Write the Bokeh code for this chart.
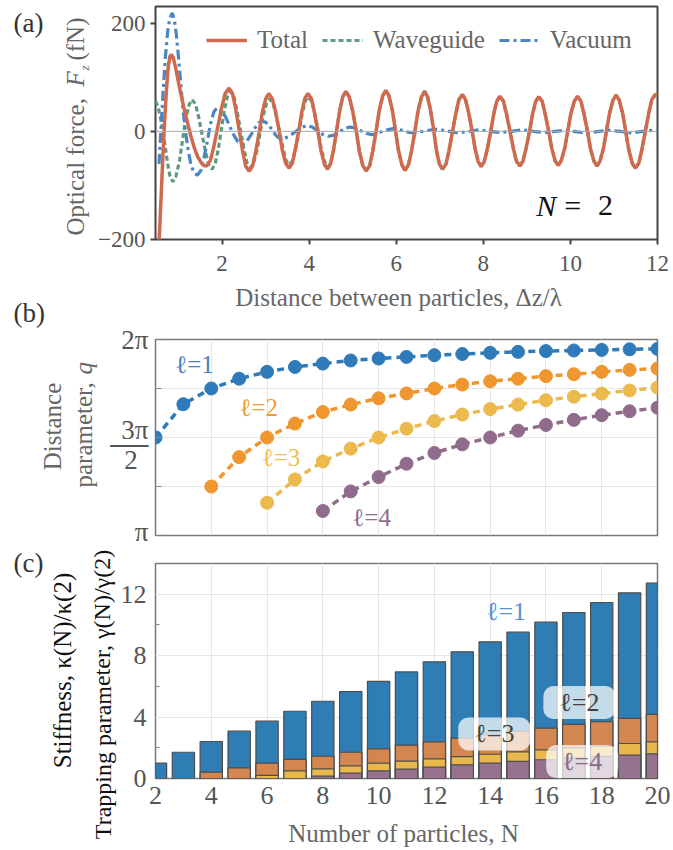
from bokeh.plotting import figure
from bokeh.models import Range1d, FixedTicker, Label, Legend, LegendItem, Span
from bokeh.layouts import column
from bokeh.embed import file_html
from bokeh.resources import INLINE

SERIF = "Liberation Serif"

# ---------------- panel (a): optical force vs distance ----
total_x = [0.52, 0.56, 0.60, 0.64, 0.68, 0.72, 0.76, 0.80, 0.83, 0.87, 0.92, 0.98, 1.05, 1.12, 1.20, 1.28, 1.36, 1.44, 1.52, 1.58, 1.64,
           1.73, 1.81, 1.90, 1.99, 2.07, 2.16,
           2.24, 2.31, 2.39, 2.47, 2.54, 2.62,
           2.70, 2.77, 2.85, 2.92, 3.00, 3.07,
           3.15, 3.23, 3.31, 3.38, 3.46, 3.54,
           3.61, 3.68, 3.76, 3.83, 3.90, 3.97,
           4.05, 4.12, 4.20, 4.27, 4.35, 4.42,
           4.49, 4.56, 4.63, 4.70, 4.77, 4.84,
           4.92, 5.00, 5.08, 5.15, 5.23, 5.31,
           5.39, 5.46, 5.54, 5.61, 5.69, 5.76,
           5.83, 5.91, 5.98, 6.05, 6.13, 6.20,
           6.28, 6.35, 6.43, 6.50, 6.58, 6.65,
           6.72, 6.79, 6.86, 6.92, 6.99, 7.06,
           7.14, 7.21, 7.29, 7.37, 7.44, 7.52,
           7.59, 7.66, 7.74, 7.81, 7.88, 7.95,
           8.02, 8.09, 8.17, 8.24, 8.31, 8.38,
           8.46, 8.53, 8.61, 8.69, 8.76, 8.84,
           8.91, 8.98, 9.06, 9.13, 9.20, 9.27,
           9.35, 9.42, 9.50, 9.57, 9.65, 9.72,
           9.79, 9.87, 9.94, 10.01, 10.09, 10.16,
           10.24, 10.31, 10.39, 10.46, 10.54, 10.61,
           10.68, 10.76, 10.83, 10.90, 10.98, 11.05,
           11.12, 11.20, 11.27, 11.34, 11.42, 11.49,
           11.57, 11.64, 11.72, 11.80, 11.87, 11.95, 12.00]
total_y = [-240, -190, -120, -45, 20, 75, 118, 138, 142, 138, 122, 98, 70, 45, 18, -8, -30, -47, -58, -63, -64,
           -54, -28, 8, 44, 70, 80,
           70, 42, 3, -36, -64, -74,
           -64, -38, -2, 34, 60, 70,
           61, 36, 1, -34, -59, -68,
           -59, -34, 1, 36, 61, 70,
           61, 35, 0, -35, -61, -70,
           -60, -34, 2, 38, 64, 74,
           64, 37, 1, -36, -63, -73,
           -63, -36, 2, 39, 66, 76,
           66, 39, 2, -35, -62, -72,
           -62, -36, 1, 38, 64, 74,
           64, 38, 2, -34, -60, -70,
           -61, -36, -1, 34, 59, 68,
           59, 35, 2, -32, -56, -65,
           -56, -33, 0, 33, 56, 65,
           56, 33, 1, -32, -55, -64,
           -55, -32, 0, 32, 55, 64,
           56, 32, 1, -31, -55, -63,
           -54, -31, 1, 33, 56, 65,
           56, 33, 1, -32, -55, -64,
           -55, -31, 2, 34, 58, 67,
           58, 33, 0, -34, -59, -68,
           -59, -34, 0, 34, 59, 68, 67]

wg_x_early = [0.47, 0.53, 0.60, 0.67, 0.74, 0.80, 0.87,
              0.94, 1.02, 1.09, 1.16, 1.24, 1.31,
              1.39, 1.46, 1.54, 1.62, 1.69, 1.77,
              1.84, 1.91, 1.98, 2.05, 2.12, 2.19,
              2.27, 2.34, 2.42, 2.50, 2.57, 2.65,
              2.72, 2.80, 2.87, 2.94, 3.02, 3.09,
              3.17, 3.24, 3.32, 3.40, 3.47, 3.55,
              3.62, 3.69, 3.77, 3.84, 3.91, 3.98,
              4.06, 4.13, 4.21, 4.28, 4.36, 4.43]
wg_y_early = [56, 45, 20, -15, -55, -82, -93,
              -83, -55, -17, 21, 49, 59,
              50, 27, -6, -38, -61, -70,
              -60, -34, 2, 38, 64, 74,
              65, 39, 4, -32, -58, -67,
              -59, -35, -4, 28, 52, 60,
              52, 30, -1, -32, -54, -62,
              -54, -31, 1, 33, 56, 64,
              55, 32, -1, -34, -57, -66]
# beyond x ~ 4.45 the waveguide curve lies on top of the total curve
wg_x = wg_x_early + [x for x in total_x if x > 4.45]
wg_y = wg_y_early + [y for x, y in zip(total_x, total_y) if x > 4.45]

vac_x = [0.55, 0.60, 0.65, 0.70, 0.75, 0.80, 0.855, 0.90, 0.95, 1.00, 1.05, 1.10, 1.16, 1.22, 1.28, 1.35, 1.43,
         1.51, 1.58, 1.66, 1.73, 1.81, 1.885, 1.98, 2.08, 2.17, 2.27, 2.36, 2.46, 2.54, 2.61, 2.69, 2.77,
         2.84, 2.92, 3.00, 3.07, 3.15, 3.22, 3.30, 3.37, 3.52, 3.66, 3.81, 3.95, 4.07, 4.20, 4.32, 4.44,
         4.57, 4.69, 4.82, 4.94, 5.07, 5.19, 5.32, 5.44, 5.56, 5.68, 5.80, 5.92, 6.05, 6.17, 6.30, 6.42,
         6.66, 6.90, 7.16, 7.42, 7.66, 7.90, 8.15, 8.40, 8.65, 8.90, 9.15, 9.40, 9.65, 9.90, 10.15, 10.40,
         10.65, 10.90, 11.15, 11.40, 11.65, 11.90, 12.00]
vac_y = [-60, 10, 80, 140, 185, 210, 219, 208, 178, 135, 88, 42, 0, -35, -60, -76, -81,
         -73, -50, -19, 13, 36, 44, 39, 27, 10, -7, -19, -24, -21, -13, -3, 8,
         16, 19, 17, 11, 3, -6, -12, -14, -10, -2, 7, 11, 8, 1, -6, -9,
         -7, -1, 6, 8, 6, 1, -4, -6, -4, 0, 3, 5, 4, 1, -2, -3,
         1, 4, 1, -3, 0, 3, 0, -2, 0, 3, 0, -2, 0, 2, -1, -3,
         0, 2, 0, -3, 0, 2, 1]

legend_labels = ["Total", "Waveguide", "Vacuum"]
a_xticks = [2, 4, 6, 8, 10, 12]
a_yticks = [-200, 0, 200]

# ---------------- panel (b): distance parameter q / pi -------------------------
N_l1 = list(range(2, 21))
N_l2 = list(range(4, 21))
N_l3 = list(range(6, 21))
N_l4 = list(range(8, 21))
q_l1 = [1.50, 1.67, 1.75, 1.80, 1.835, 1.86, 1.877, 1.893, 1.903, 1.911, 1.92, 1.926, 1.932, 1.937, 1.941, 1.944, 1.947, 1.95, 1.952]
q_l2 = [1.25, 1.40, 1.50, 1.571, 1.63, 1.668, 1.70, 1.725, 1.75, 1.77, 1.787, 1.80, 1.813, 1.823, 1.835, 1.845, 1.852]
q_l3 = [1.167, 1.286, 1.378, 1.443, 1.50, 1.545, 1.584, 1.617, 1.645, 1.668, 1.69, 1.708, 1.724, 1.74, 1.755]
q_l4 = [1.125, 1.225, 1.298, 1.366, 1.421, 1.465, 1.50, 1.535, 1.564, 1.59, 1.614, 1.634, 1.652]
b_yticks = [1, 1.25, 1.5, 1.75, 2]
b_ylabels = {1: "\u03c0", 1.25: "", 1.5: "\n3\u03c0\n\u2500\u2500\n2\u2009\u2009", 1.75: "", 2: "2\u03c0"}

# ---------------- panel (c): normalised stiffness -----------------------------
stiff_l1 = [1.0, 1.71, 2.41, 3.08, 3.73, 4.38, 5.03, 5.66, 6.32, 6.94, 7.6, 8.25, 8.9, 9.53, 10.18, 10.81, 11.46, 12.09, 12.72]
stiff_l2 = [0.41, 0.69, 1.0, 1.24, 1.45, 1.71, 1.93, 2.17, 2.39, 2.63, 2.84, 3.06, 3.28, 3.52, 3.71, 3.91, 4.17]
stiff_l3 = [0.2, 0.5, 0.63, 0.82, 1.0, 1.13, 1.28, 1.43, 1.58, 1.74, 1.87, 2.0, 2.13, 2.28, 2.39]
stiff_l4 = [0.15, 0.35, 0.5, 0.61, 0.74, 0.89, 1.0, 1.11, 1.22, 1.33, 1.44, 1.52, 1.61]
c_xticks = list(range(2, 21, 2))
c_yticks = [0, 4, 8, 12]

# ---------------- colours ------------------------------------------------------
RED, GREEN, VBLUE = "#cf6a4f", "#5c9c7d", "#4a86c3"
B_COLS = ["#2f7ab8", "#f0962e", "#ecb94c", "#8f6b8c"]
C_COLS = ["#2e7db5", "#d48651", "#e9b84d", "#96728f"]
LBL_B = ["#4a80c4", "#f29a36", "#efc050", "#8e6d8b"]
ROT = 1.5708
NB = "\u00a0"


def base_fig(w, h, xr, yr, left, right, top, bottom):
    p = figure(width=w, height=h, x_range=xr, y_range=yr, output_backend="svg",
               toolbar_location=None, min_border_left=left, min_border_right=right,
               min_border_top=top, min_border_bottom=bottom)
    p.background_fill_color = "white"
    p.border_fill_color = "white"
    return p


def style_axis(ax, size, color="#555", tout=0, tin=0, tcolor="#444", twidth=1):
    ax.axis_line_color = None
    ax.major_tick_out = tout
    ax.major_tick_in = tin
    ax.major_tick_line_color = tcolor
    ax.major_tick_line_width = twidth
    ax.minor_tick_line_color = None
    ax.major_label_text_font = SERIF
    ax.major_label_text_font_size = size
    ax.major_label_text_color = color


def txt(p, x, y, text, size, color, xu="canvas", yu="canvas", angle=0, align="left",
        base="middle", style="normal", font=SERIF, place="center", **kw):
    # canvas units: pixels from the top-left corner of the figure canvas
    lab = Label(x=x, y=y, x_units=xu, y_units=yu, text=text, angle=angle,
                text_font=font, text_font_size=size, text_color=color,
                text_align=align, text_baseline=base, text_font_style=style, **kw)
    p.add_layout(lab, place)
    return lab


# ================= figure (a) =================  page y 0..283, frame 153..657 x 6..239
pa = base_fig(673, 283, Range1d(0.47, 12), Range1d(-200, 231), 153, 16, 6, 44)
pa.xgrid.visible = False
pa.ygrid.visible = False
pa.outline_line_color = "#444"
pa.outline_line_width = 2
pa.xaxis.ticker = FixedTicker(ticks=a_xticks)
pa.yaxis.ticker = FixedTicker(ticks=a_yticks)
pa.yaxis.major_label_overrides = {-200: "\u2212200"}
for ax in (pa.xaxis[0], pa.yaxis[0]):
    style_axis(ax, "23px", tout=5, twidth=2)
pa.xaxis.major_label_standoff = 11
pa.yaxis.major_label_standoff = 5

pa.add_layout(Span(location=0, dimension="width", line_color="#aaaaaa", line_width=1))
r_wg = pa.line(wg_x, wg_y, line_color=GREEN, line_width=3.2, line_dash="5 3")
r_vac = pa.line(vac_x, vac_y, line_color=VBLUE, line_width=3.2, line_dash="10 4 3 4")
r_tot = pa.line(total_x, total_y, line_color=RED, line_width=3.5)

leg = Legend(items=[LegendItem(label=legend_labels[0], renderers=[r_tot]),
                    LegendItem(label=legend_labels[1], renderers=[r_wg]),
                    LegendItem(label=legend_labels[2], renderers=[r_vac])],
             orientation="horizontal", location=(51, 185), glyph_width=41, glyph_height=20,
             label_text_font=SERIF, label_text_font_size="25px", label_text_color="#666",
             label_standoff=10, spacing=14, padding=0, margin=0,
             background_fill_alpha=0, border_line_alpha=0)
pa.add_layout(leg)

# y-axis title (rotated); texts outside the frame live in side panels
txt(pa, 75, 235, "Optical force," + NB * 6 + "(fN)", "25px", "#666", angle=ROT, place="left")
txt(pa, 75, 86, "F", "25px", "#666", angle=ROT, style="italic", place="left")
txt(pa, 84, 70, "z", "13px", "#666", angle=ROT, style="italic", place="right")
txt(pa, 13, 22, "(a)", "27px", "#333", place="left")
# N = 2
txt(pa, 9.215, -138, "N", "30px", "#111", xu="data", yu="data", base="alphabetic", style="italic")
txt(pa, 9.856, -138, "=", "30px", "#111", xu="data", yu="data", base="alphabetic")
txt(pa, 10.635, -138, "2", "30px", "#111", xu="data", yu="data", base="alphabetic")

# ================= figure (b) =================  page y 283..546, frame 155..662 x 339..535
pb = base_fig(673, 263, Range1d(2, 20), Range1d(1, 2), 155, 11, 56, 11)
pb.xaxis.visible = False
pb.outline_line_color = "#777"
pb.outline_line_width = 1.5
pb.xgrid.ticker = FixedTicker(ticks=c_xticks)
pb.xgrid.grid_line_color = "#e6e6e6"
pb.ygrid.grid_line_color = "#e6e6e6"
pb.yaxis.ticker = FixedTicker(ticks=b_yticks)
pb.yaxis.major_label_overrides = b_ylabels
style_axis(pb.yaxis[0], "27px", tin=6, tcolor="#888")
pb.yaxis.major_label_text_line_height = 0.5
pb.yaxis.major_label_standoff = 7

for Ns, qs, col in ((N_l1, q_l1, B_COLS[0]), (N_l2, q_l2, B_COLS[1]),
                    (N_l3, q_l3, B_COLS[2]), (N_l4, q_l4, B_COLS[3])):
    pb.line(Ns, qs, line_color=col, line_width=3.5, line_dash="7 5")
    pb.scatter(Ns, qs, size=13, fill_color=col, line_color=col)

# x title of panel (a) and the panel letter (b) sit in this canvas (page y - 283)
txt(pb, 398, 14, "Distance between particles, \u0394z/\u03bb", "25px", "#666", align="center", place="above")
txt(pb, 13, 29, "(b)", "27px", "#333", place="left")
# y title
txt(pb, 52, 143, "Distance", "25px", "#666", angle=ROT, align="center", place="left")
txt(pb, 83, 204, "parameter,", "25px", "#666", angle=ROT, place="left")
txt(pb, 83, 91, "q", "25px", "#666", angle=ROT, style="italic", place="above")
# curve labels
for (xx, yy), s, col in zip(((3.4, 1.872), (5.7, 1.655), (6.5, 1.40), (9.75, 1.093)),
                            ("\u2113=1", "\u2113=2", "\u2113=3", "\u2113=4"), LBL_B):
    txt(pb, xx, yy, s, "25px", col, xu="data", yu="data", align="center")

# ================= figure (c) =================  page y 546..850, frame 153..663 x 563..778
pc = base_fig(673, 304, Range1d(2, 20), Range1d(0, 14), 153, 10, 17, 72)
pc.outline_line_color = "#777"
pc.outline_line_width = 1.5
pc.xaxis.ticker = FixedTicker(ticks=c_xticks)
pc.yaxis.ticker = FixedTicker(ticks=c_yticks, minor_ticks=[2, 6, 10])
pc.xgrid.grid_line_color = "#e6e6e6"
pc.ygrid.grid_line_color = "#e6e6e6"
style_axis(pc.xaxis[0], "26px", tin=0, tcolor="#888")
style_axis(pc.yaxis[0], "26px", tin=0, tcolor="#888")
pc.yaxis.minor_tick_line_color = "#888"
pc.yaxis.minor_tick_in = 4
pc.yaxis.minor_tick_out = 0
pc.xaxis.major_label_standoff = 8
pc.yaxis.major_label_standoff = 9

for Ns, vals, col in ((N_l1, stiff_l1, C_COLS[0]), (N_l2, stiff_l2, C_COLS[1]),
                      (N_l3, stiff_l3, C_COLS[2]), (N_l4, stiff_l4, C_COLS[3])):
    pc.vbar(x=Ns, top=vals, bottom=0, width=0.8, fill_color=col, line_color="#4d4d4d", line_width=1.2)

txt(pc, 14.57, 10.85, "\u2113=1", "26px", "#5b8fcb", xu="data", yu="data", align="center")
box = dict(background_fill_color="white", background_fill_alpha=0.72, border_radius=10,
           padding=dict(left=16, right=16, top=2, bottom=2))
txt(pc, 17.2, 4.95, "\u2113=2", "26px", "#46403a", xu="data", yu="data", align="center", **box)
txt(pc, 14.15, 2.9, "\u2113=3", "26px", "#4a4535", xu="data", yu="data", align="center", **box)
txt(pc, 17.3, 1.1, "\u2113=4", "26px", "#8b6a88", xu="data", yu="data", align="center", **box)

# axis titles (page y - 546)
txt(pc, 403, 287, "Number of particles, N", "25px", "#666", align="center", place="below")
txt(pc, 62, 124, "Stiffness, \u03ba(N)/\u03ba(2)", "25px", "#111", angle=ROT, align="center", place="left")
txt(pc, 102, 148, "Trapping parameter, \u03b3(N)/\u03b3(2)", "24px", "#111", angle=ROT, align="center", place="left")
txt(pc, 13, 16, "(c)", "27px", "#333", place="left")

layout = column(pa, pb, pc)
open("out.html", "w").write(file_html(layout, INLINE))
